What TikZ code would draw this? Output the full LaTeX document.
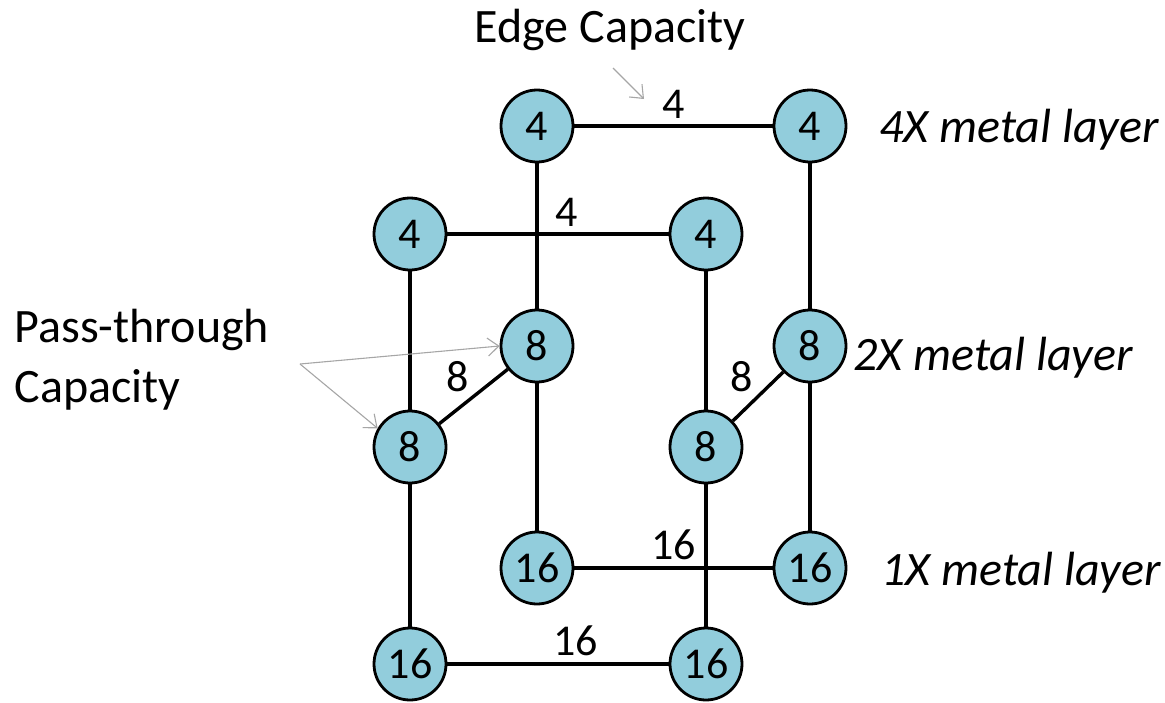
\documentclass[tikz,border=0pt]{standalone}
\usepackage{fontspec}
\setmainfont{Carlito}
\usetikzlibrary{positioning, arrows.meta}
\definecolor{cellblue}{HTML}{92CDDC}

\begin{document}
\begin{tikzpicture}[x=1pt, y=-1pt, on grid, auto,
        font=\fontsize{44}{50}\selectfont,
        cell/.style={circle, draw, line width=2.8pt, fill=cellblue,
            minimum size=72pt, inner sep=0pt},
        every edge/.style={draw, line width=3.4pt},
        weight/.style={inner sep=6pt},
        caption/.style={font=\fontsize{48}{60}\selectfont},
        layername/.style={anchor=west, font=\fontsize{48}{56}\selectfont\itshape},
        pointer/.style={draw=black!35, line width=1.1pt,
            -{Straight Barb[length=11pt, width=18pt]}}]
        \useasboundingbox (0,0) rectangle (1165,702);

        % 4X layer
        \node[cell] (a1) at (537,126) {4};
        \node[cell] (a2) [right=273pt of a1] {4};
        \node[cell] (a3) at (410,234) {4};
        \node[cell] (a4) [right=296pt of a3] {4};
        % 2X layer
        \node[cell] (b1) at (537,346) {8};
        \node[cell] (b2) [right=273pt of b1] {8};
        \node[cell] (b3) at (410,447) {8};
        \node[cell] (b4) [right=296pt of b3] {8};
        % 1X layer
        \node[cell] (c1) at (537,568) {16};
        \node[cell] (c2) [right=273pt of c1] {16};
        \node[cell] (c3) at (410,664) {16};
        \node[cell] (c4) [right=296pt of c3] {16};

        \path[line width=3.4pt]
        (a1) edge node[weight] {4} (a2)
        (a3) edge node[weight, pos=0.54] {4} (a4)
        (a1) edge (b1)
        (a2) edge (b2)
        (a3) edge (b3)
        (a4) edge (b4)
        (b3) edge node {8} (b1)
        (b4) edge node {8} (b2)
        (b1) edge (c1)
        (b2) edge (c2)
        (b3) edge (c3)
        (b4) edge (c4)
        (c1) edge node[weight] {16} (c2)
        (c3) edge node[weight, pos=0.58] {16} (c4);

        % layer names
        \node[layername] (l4) at (876,130) {4X metal layer};
        \node[layername] (l2) at (850,358) {2X metal layer};
        \node[layername] (l1) at (878,573) {1X metal layer};

        % capacity notes
        \node[caption] (edgecap) at (610,30) {Edge Capacity};
        \coordinate (e0) at (613,68);
        \draw[pointer] (e0) -- (644,99);
        \node[caption, anchor=west, align=left] (passcap) at (11,360) {Pass-through\\Capacity};
        \coordinate (p0) at (300,364);
        \draw[pointer] (p0) -- (b1.west);
        \draw[pointer] (p0) -- (b3.150);
\end{tikzpicture}
\end{document}
